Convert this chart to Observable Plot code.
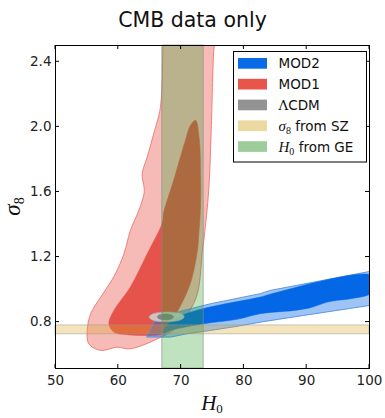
<!DOCTYPE html>
<html><head><meta charset="utf-8">
<script src="https://cdn.jsdelivr.net/npm/d3@7"></script>
<script src="https://cdn.jsdelivr.net/npm/@observablehq/plot@0.6"></script>
<style>
body{margin:0;background:#fff;}
#title{height:40px;position:relative;font-family:"DejaVu Sans";font-size:20.5px;color:#111;}
#title span{position:absolute;left:0;width:385px;text-align:center;top:10px;line-height:20.5px;}
#chart svg{display:block;}
</style></head>
<body>
<div id="title"><span>CMB data only</span></div>
<div id="chart"></div>
<script>
const titleText = "CMB data only";
const xTicks = [50, 60, 70, 80, 90, 100];
const yTicks = [0.8, 1.2, 1.6, 2.0, 2.4];
const xDomain = [50, 100];
const yDomain = [0.515, 2.5];

// [H0, sigma8] boundary points
const mod1Outer = [[67.1,2.60],[67.1,2.53],[66.7,2.12],[65.65,1.96],[64.6,1.815],[63.8,1.71],[64.1,1.63],[64.1,1.59],[63.3,1.49],[61.9,1.36],[60.9,1.22],[59.3,1.08],[57.2,0.954],[55.6,0.852],[55.05,0.749],[55.3,0.667],[57.2,0.626],[59.8,0.646],[61.9,0.636],[66.7,0.706],[69.4,0.769],[71.2,0.86],[72.6,0.975],[73.4,1.24],[73.7,1.33],[74.4,1.61],[74.8,1.98],[75.2,2.47],[75.5,2.60]];
const mod1Inner = [[72.3,2.04],[72.9,1.92],[73.1,1.715],[73.1,1.51],[72.8,1.33],[72.6,1.24],[71.5,1.04],[69.9,0.90],[68.3,0.79],[67.2,0.73],[64.6,0.718],[61.1,0.724],[59.3,0.738],[58.5,0.79],[59.3,0.872],[61.9,1.015],[64.6,1.22],[67.0,1.41],[67.2,1.47],[68.8,1.67],[70.7,1.92],[71.5,2.01]];
const mod2Outer = [[64.6,0.718],[65.7,0.80],[67.2,0.831],[70.4,0.872],[74.7,0.913],[82.6,0.975],[84.2,0.995],[100.5,1.115],[100.5,0.905],[89.5,0.841],[82.6,0.80],[78.9,0.774],[74.7,0.749],[71.0,0.729],[68.3,0.708],[64.6,0.708]];
const mod2Inner = [[67.2,0.749],[68.3,0.80],[70.0,0.84],[73.6,0.884],[82.6,0.954],[84.2,0.972],[100.5,1.085],[100.5,0.985],[97.0,0.944],[94.9,0.934],[93.3,0.923],[90.6,0.889],[88.0,0.872],[82.6,0.852],[78.9,0.817],[73.6,0.79],[68.3,0.749],[67.2,0.729]];
const lcdmOuter = [[64.9,0.832],[65.5,0.851],[67.0,0.861],[68.7,0.861],[70.1,0.851],[70.5,0.832],[69.9,0.813],[68.4,0.803],[66.7,0.803],[65.4,0.813]];
const lcdmInner = [[66.2,0.832],[66.6,0.845],[67.5,0.850],[68.4,0.845],[68.8,0.832],[68.4,0.819],[67.5,0.814],[66.6,0.819]];
const h0Band = [67.0, 73.6];
const s8Band = [0.725, 0.78];

const legendLabels = ["MOD2", "MOD1", "ΛCDM", "σ8 from SZ", "H0 from GE"];
const legendColors = ["#0a6be6", "#e8554a", "#939393", "#ecd9a0", "#9ccd9a"];

const P = {x: d => d[0], y: d => d[1], curve: "catmull-rom-closed", clip: true};

const chart = Plot.plot({
  width: 385, height: 378,
  marginTop: 5, marginBottom: 50, marginLeft: 55, marginRight: 16,
  style: {fontFamily: "DejaVu Sans", fontSize: "13.5px", color: "#222", background: "#fff"},
  x: {domain: xDomain},
  y: {domain: yDomain},
  marks: [
    Plot.line(mod1Outer, {...P, fill: "#f6bbb7", stroke: "#ea6b62", strokeWidth: 0.8}),
    Plot.line(mod1Inner, {...P, fill: "#e5534b", stroke: "#e5534b", strokeWidth: 0.5}),
    Plot.line(mod2Outer, {...P, curve: "linear-closed", fill: "#0a6be6", fillOpacity: 0.4, stroke: "#4d8fe6", strokeWidth: 0.9}),
    Plot.line(mod2Inner, {...P, fill: "#0367e6", stroke: "#0367e6", strokeWidth: 0.5}),
    Plot.line(lcdmOuter, {...P, fill: "#cfcfcf", fillOpacity: 0.9, stroke: "#aaa", strokeWidth: 0.6}),
    Plot.line(lcdmInner, {...P, fill: "#7d7d7d", fillOpacity: 0.9, stroke: "#777", strokeWidth: 0.5}),
    Plot.rect([h0Band], {x1: d => d[0], x2: d => d[1], y1: () => yDomain[0], y2: () => yDomain[1], fill: "#2ca02c", fillOpacity: 0.3, stroke: "#888", strokeOpacity: 0.6}),
    Plot.rect([s8Band], {y1: d => d[0], y2: d => d[1], x1: () => xDomain[0], x2: () => xDomain[1], fill: "#daa520", fillOpacity: 0.3, stroke: "#999", strokeOpacity: 0.5}),
    Plot.axisX({ticks: xTicks, tickSize: 0, tickPadding: 7, label: null}),
    Plot.axisY({ticks: yTicks, tickSize: 0, tickPadding: 4, label: null, tickFormat: d => d.toFixed(1)}),
    Plot.frame({stroke: "#000", strokeWidth: 1})
  ]
});
document.getElementById("chart").appendChild(chart);

const sx = chart.scale("x"), sy = chart.scale("y");
const svg = d3.select(chart);
const x0 = sx.apply(xDomain[0]), x1 = sx.apply(xDomain[1]);
const y0 = sy.apply(yDomain[0]), y1 = sy.apply(yDomain[1]);
const tl = 4;
const g = svg.append("g").attr("stroke", "#000").attr("stroke-width", 1);
xTicks.forEach(t => {
  const x = sx.apply(t);
  g.append("line").attr("x1", x).attr("x2", x).attr("y1", y0).attr("y2", y0 - tl);
  g.append("line").attr("x1", x).attr("x2", x).attr("y1", y1).attr("y2", y1 + tl);
});
yTicks.forEach(t => {
  const y = sy.apply(t);
  g.append("line").attr("y1", y).attr("y2", y).attr("x1", x0).attr("x2", x0 + tl);
  g.append("line").attr("y1", y).attr("y2", y).attr("x1", x1).attr("x2", x1 - tl);
});

// axis labels
const xl = svg.append("text").attr("x", (x0 + x1) / 2).attr("y", 370).attr("text-anchor", "middle")
  .attr("font-family", "Liberation Serif").attr("font-size", 21).attr("fill", "#111");
xl.append("tspan").attr("font-style", "italic").text("H");
xl.append("tspan").attr("font-size", 13).attr("dy", 3).text("0");
const yl = svg.append("text").attr("transform", `translate(20,${(y0 + y1) / 2}) rotate(-90)`).attr("text-anchor", "middle")
  .attr("font-family", "Liberation Serif").attr("font-size", 23).attr("fill", "#111");
yl.append("tspan").attr("font-style", "italic").text("σ");
yl.append("tspan").attr("font-size", 14).attr("dy", 4).text("8");

// legend
const lg = svg.append("g").attr("text-anchor", "start");
lg.append("rect").attr("x", 233.5).attr("y", 11.5).attr("width", 133).attr("height", 110.5)
  .attr("fill", "#fff").attr("stroke", "#000").attr("stroke-width", 1);
legendLabels.forEach((lab, i) => {
  const cy = 23.3 + i * 20.8;
  lg.append("rect").attr("x", 238).attr("y", cy - 5.3).attr("width", 29).attr("height", 10.7).attr("fill", legendColors[i]);
  const t = lg.append("text").attr("x", 278.5).attr("y", cy + 5).attr("text-anchor", "start")
    .attr("font-family", "DejaVu Sans").attr("font-size", 13.5).attr("fill", "#111");
  if (i === 2) {
    t.append("tspan").attr("font-family", "DejaVu Serif").text("Λ");
    t.append("tspan").text("CDM");
  } else if (i === 3 || i === 4) {
    t.append("tspan").attr("font-family", "Liberation Serif").attr("font-style", "italic").attr("font-size", 15).text(i === 3 ? "σ" : "H");
    t.append("tspan").attr("font-family", "Liberation Serif").attr("font-size", 10).attr("dy", 3).text(i === 3 ? "8" : "0");
    t.append("tspan").attr("dy", -3).text(" from " + (i === 3 ? "SZ" : "GE"));
  } else {
    t.text(lab);
  }
});
</script>
</body></html>
